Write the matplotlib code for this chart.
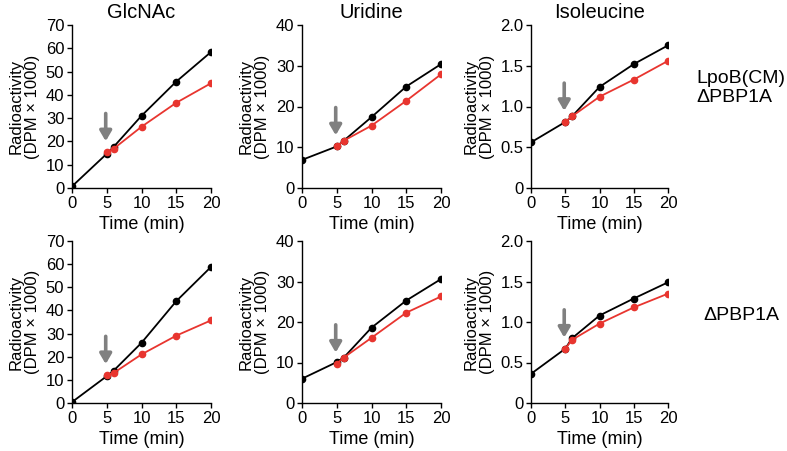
import matplotlib
matplotlib.use("Agg")
import matplotlib.pyplot as plt

plt.rcParams['font.family'] = ['Liberation Sans', 'DejaVu Sans']

t_black = [0, 5, 6, 10, 15, 20]
t_red = [5, 6, 10, 15, 20]

titles = ["GlcNAc", "Uridine", "Isoleucine"]
row_labels = ["LpoB(CM)\nΔPBP1A", "ΔPBP1A"]

# row 0: LpoB(CM) ΔPBP1A ; row 1: ΔPBP1A
glcnac_top_black = [0.7, 14.7, 17.7, 31.0, 45.7, 58.4]
glcnac_top_red = [15.3, 16.9, 26.3, 36.6, 45.0]
uridine_top_black = [6.9, 10.2, 11.6, 17.4, 24.9, 30.4]
uridine_top_red = [10.2, 11.6, 15.3, 21.4, 27.9]
ile_top_black = [0.56, 0.81, 0.88, 1.24, 1.52, 1.75]
ile_top_red = [0.81, 0.88, 1.12, 1.33, 1.56]

glcnac_bot_black = [0.4, 11.6, 14.0, 26.0, 44.0, 58.8]
glcnac_bot_red = [12.0, 13.0, 21.0, 29.1, 35.7]
uridine_bot_black = [6.0, 10.1, 11.2, 18.6, 25.3, 30.6]
uridine_bot_red = [9.7, 11.2, 16.1, 22.3, 26.3]
ile_bot_black = [0.36, 0.67, 0.80, 1.08, 1.29, 1.49]
ile_bot_red = [0.67, 0.78, 0.98, 1.18, 1.35]

black_series = [[glcnac_top_black, uridine_top_black, ile_top_black],
                [glcnac_bot_black, uridine_bot_black, ile_bot_black]]
red_series = [[glcnac_top_red, uridine_top_red, ile_top_red],
              [glcnac_bot_red, uridine_bot_red, ile_bot_red]]

ymaxes = [70, 40, 2.0]
yticks = [[0, 10, 20, 30, 40, 50, 60, 70], [0, 10, 20, 30, 40],
          [0, 0.5, 1.0, 1.5, 2.0]]
ytick_labels = [["0", "10", "20", "30", "40", "50", "60", "70"],
                ["0", "10", "20", "30", "40"],
                ["0", "0.5", "1.0", "1.5", "2.0"]]
xticks = [0, 5, 10, 15, 20]
arrow_time = 5

W, H = 787, 451
fig = plt.figure(figsize=(W / 100, H / 100), dpi=100)

col_x = [72, 302, 531]
col_w = [139, 139, 137]
row_top = [25, 241]
row_bot = [188, 403]

red = '#e8352f'

for r in range(2):
    for c in range(3):
        left = col_x[c] / W
        bottom = 1 - row_bot[r] / H
        width = col_w[c] / W
        height = (row_bot[r] - row_top[r]) / H
        ax = fig.add_axes([left, bottom, width, height])
        ax.plot(t_black, black_series[r][c], color='black', lw=1.3,
                marker='o', ms=4.5, zorder=3)
        ax.plot(t_red, red_series[r][c], color=red, lw=1.3,
                marker='o', ms=4.5, zorder=4)
        ax.set_xlim(0, 20)
        ax.set_ylim(0, ymaxes[c])
        ax.set_xticks(xticks)
        ax.set_yticks(yticks[c])
        ax.set_yticklabels(ytick_labels[c])
        for s in ['top', 'right']:
            ax.spines[s].set_visible(False)
        for s in ['left', 'bottom']:
            ax.spines[s].set_linewidth(1.0)
            ax.spines[s].set_clip_on(False)
        ax.tick_params(direction='out', length=3.5, width=1.0,
                       labelsize=12, pad=2)
        ax.set_xlabel("Time (min)", fontsize=13, labelpad=4)
        ax.set_ylabel("Radioactivity\n(DPM × 1000)", fontsize=12,
                      linespacing=1.1, labelpad=4)
        if r == 0:
            ax.set_title(titles[c], fontsize=14.5, pad=5)
        yv = red_series[r][c][0]
        ax.annotate("", xy=(arrow_time - 0.15, yv), xycoords='data',
                    xytext=(0, 28), textcoords='offset points',
                    arrowprops=dict(arrowstyle='-|>,head_width=0.35,head_length=0.6',
                                    color='#808080', lw=2.6,
                                    shrinkA=0, shrinkB=8))

fig.text(696 / W, 1 - 88 / H, row_labels[0], fontsize=14, ha='left',
         va='center', linespacing=1.2)
fig.text(703 / W, 1 - 315 / H, row_labels[1], fontsize=14, ha='left',
         va='center')

fig.savefig("out.png", dpi=100)
